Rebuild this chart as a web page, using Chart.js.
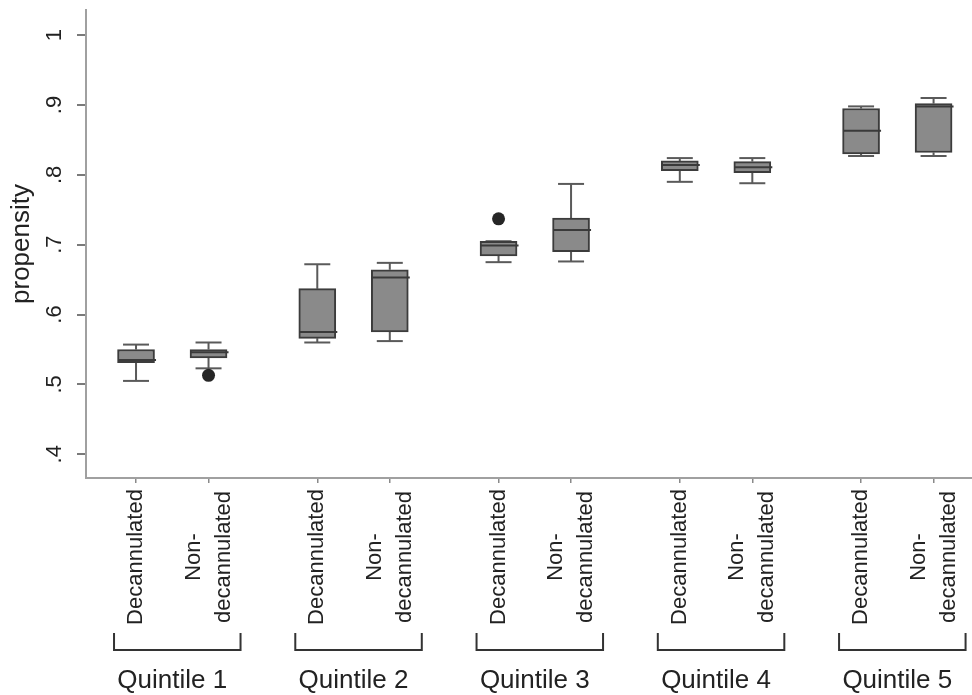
<!DOCTYPE html>
<html>
<head>
<meta charset="utf-8">
<script src="https://cdn.jsdelivr.net/npm/chart.js@4.4.1/dist/chart.umd.min.js"></script>
<style>
  html, body { margin: 0; padding: 0; background: #fff; }
  canvas { display: block; }
</style>
</head>
<body>
<canvas id="chart" width="972" height="695"></canvas>
<script>
// categories
const quintiles = ["Quintile 1", "Quintile 2", "Quintile 3", "Quintile 4", "Quintile 5"];
const statuses = [["Decannulated"], ["Non-", "decannulated"]];

// box stats, one entry per box (quintile x status)
const lowerWhisker = [0.505, 0.523, 0.560, 0.562, 0.675, 0.676, 0.790, 0.788, 0.827, 0.827];
const q1 =           [0.531, 0.538, 0.566, 0.575, 0.684, 0.690, 0.806, 0.803, 0.830, 0.832];
const median =       [0.535, 0.546, 0.575, 0.653, 0.699, 0.721, 0.814, 0.811, 0.863, 0.898];
const q3 =           [0.550, 0.550, 0.637, 0.664, 0.705, 0.738, 0.820, 0.819, 0.895, 0.902];
const upperWhisker = [0.557, 0.560, 0.672, 0.674, 0.705, 0.787, 0.824, 0.824, 0.898, 0.910];

// outside values: which box, value
const outlierBox = [1, 4];
const outlierValue = [0.513, 0.737];

// y axis ticks
const yTicks = [0.4, 0.5, 0.6, 0.7, 0.8, 0.9, 1];
const yTickLabels = [".4", ".5", ".6", ".7", ".8", ".9", "1"];

const FONT = "'Liberation Sans', Arial, Helvetica, sans-serif";
const GROUP_STEP = 2.5;
const boxCount = quintiles.length * statuses.length;
const boxPos = [];
for (let i = 0; i < boxCount; i++) {
  boxPos.push(Math.floor(i / statuses.length) * GROUP_STEP + (i % statuses.length));
}

Chart.defaults.font.family = FONT;
Chart.defaults.color = "#222";

const boxExtras = {
  id: "boxExtras",
  beforeDatasetsDraw(chart) {
    const { ctx, scales: { x, y } } = chart;
    ctx.save();
    ctx.strokeStyle = "#5a5a5a";
    ctx.lineWidth = 2;
    boxPos.forEach((p, i) => {
      const px = x.getPixelForValue(p);
      ctx.beginPath();
      ctx.moveTo(px, y.getPixelForValue(q3[i]));
      ctx.lineTo(px, y.getPixelForValue(upperWhisker[i]));
      ctx.moveTo(px, y.getPixelForValue(q1[i]));
      ctx.lineTo(px, y.getPixelForValue(lowerWhisker[i]));
      ctx.stroke();
      [upperWhisker[i], lowerWhisker[i]].forEach((v) => {
        const py = y.getPixelForValue(v);
        ctx.beginPath();
        ctx.moveTo(px - 13, py);
        ctx.lineTo(px + 13, py);
        ctx.stroke();
      });
    });
    ctx.restore();
  },
  afterDatasetsDraw(chart) {
    const { ctx, scales: { x, y } } = chart;
    ctx.save();
    ctx.strokeStyle = "#3a3a3a";
    ctx.lineWidth = 2;
    boxPos.forEach((p, i) => {
      const px = x.getPixelForValue(p);
      const py = y.getPixelForValue(median[i]);
      ctx.beginPath();
      ctx.moveTo(px - 18, py);
      ctx.lineTo(px + 20, py);
      ctx.stroke();
    });
    ctx.restore();
  },
  afterDraw(chart) {
    const { ctx, scales: { x } } = chart;
    ctx.save();
    ctx.fillStyle = "#222";
    ctx.textBaseline = "middle";
    ctx.textAlign = "center";

    // rotated category labels under each box
    ctx.font = "22px " + FONT;
    boxPos.forEach((p, i) => {
      const lines = statuses[i % statuses.length];
      const px = x.getPixelForValue(p);
      lines.forEach((line, k) => {
        const dx = (k - (lines.length - 1) / 2) * 30;
        ctx.save();
        ctx.translate(px + dx, 557);
        ctx.rotate(-Math.PI / 2);
        ctx.fillText(line, 0, 0);
        ctx.restore();
      });
    });

    // brackets and quintile labels
    ctx.strokeStyle = "#333";
    ctx.lineWidth = 2;
    ctx.font = "26px " + FONT;
    quintiles.forEach((q, g) => {
      const a = x.getPixelForValue(boxPos[g * 2]);
      const b = x.getPixelForValue(boxPos[g * 2 + 1]);
      const left = a - 22;
      const right = b + 32;
      ctx.beginPath();
      ctx.moveTo(left, 633);
      ctx.lineTo(left, 650);
      ctx.lineTo(right, 650);
      ctx.lineTo(right, 633);
      ctx.stroke();
      ctx.fillText(q, (a + b) / 2, 681);
    });
    ctx.restore();
  }
};

new Chart(document.getElementById("chart"), {
  type: "bar",
  data: {
    datasets: [
      {
        type: "scatter",
        data: outlierBox.map((b, k) => ({ x: boxPos[b], y: outlierValue[k] })),
        pointRadius: 6.5,
        pointBackgroundColor: "#262626",
        pointBorderWidth: 0,
        order: 0
      },
      {
        type: "bar",
        data: boxPos.map((p, i) => ({ x: p, y: [q1[i], q3[i]] })),
        backgroundColor: "#8a8a8a",
        borderColor: "#3c3c3c",
        borderWidth: 2,
        borderSkipped: false,
        barThickness: 37,
        grouped: false,
        order: 1
      }
    ]
  },
  options: {
    responsive: false,
    animation: false,
    devicePixelRatio: 1,
    layout: { autoPadding: false, padding: { top: 10, right: 0, bottom: 0, left: 0 } },
    plugins: {
      legend: { display: false },
      tooltip: { enabled: false }
    },
    scales: {
      x: {
        type: "linear",
        min: -0.69,
        max: 11.53,
        offset: false,
        afterBuildTicks: (scale) => { scale.ticks = boxPos.map((v) => ({ value: v })); },
        afterFit: (scale) => {
          scale.height = 217;
          scale.paddingLeft = 0;
          scale.paddingRight = 0;
        },
        ticks: { display: false },
        grid: { offset: false, drawOnChartArea: false, tickLength: 5, color: "#8a8a8a", lineWidth: 1.5 },
        border: { color: "#a0a0a0", width: 2 }
      },
      y: {
        min: 0.366,
        max: 1.036,
        afterBuildTicks: (scale) => { scale.ticks = yTicks.map((v) => ({ value: v })); },
        afterFit: (scale) => {
          scale.width = 86;
          scale.paddingTop = 0;
          scale.paddingBottom = 0;
        },
        ticks: {
          minRotation: 90,
          maxRotation: 90,
          crossAlign: "center",
          padding: 13,
          font: { size: 22 },
          color: "#222",
          callback: (value, index) => yTickLabels[index]
        },
        grid: { drawOnChartArea: false, tickLength: 9, color: "#7a7a7a", lineWidth: 2 },
        border: { color: "#a0a0a0", width: 2 },
        title: {
          display: true,
          text: "propensity",
          font: { size: 26 },
          color: "#222",
          padding: { top: 6, bottom: 0 }
        }
      }
    }
  },
  plugins: [boxExtras]
});
</script>
</body>
</html>
